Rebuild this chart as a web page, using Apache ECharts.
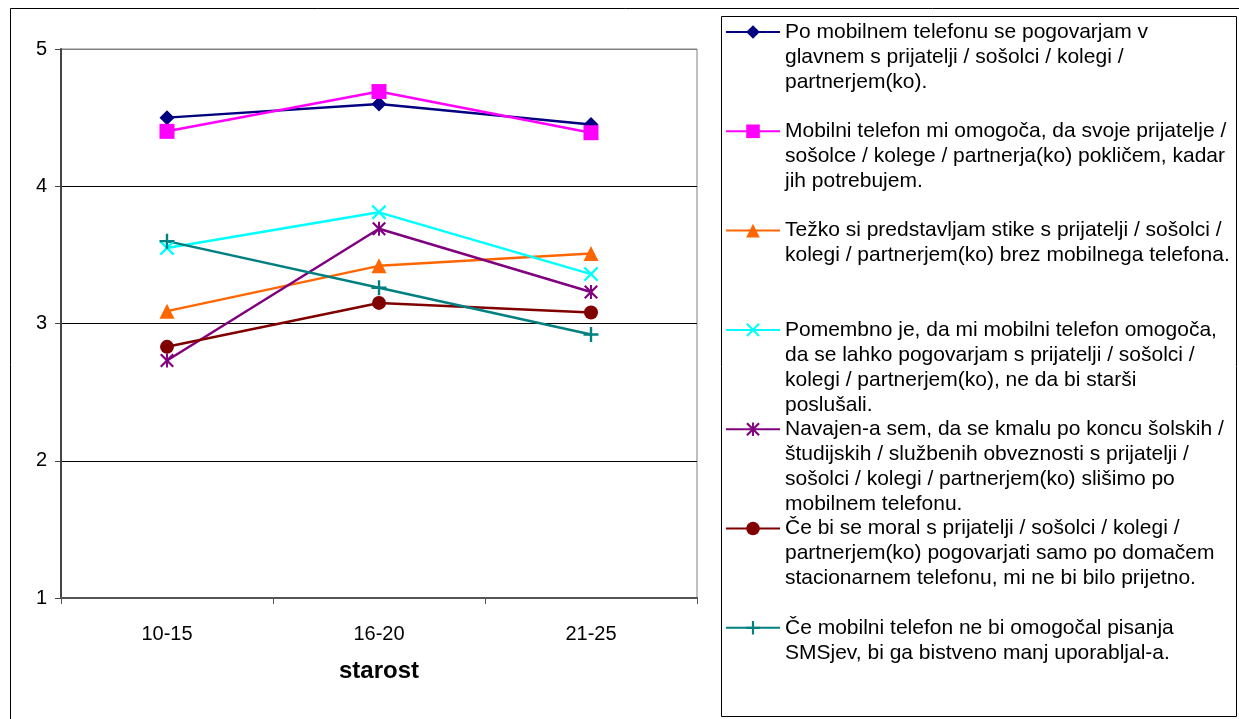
<!DOCTYPE html>
<html>
<head>
<meta charset="utf-8">
<script src="https://cdn.jsdelivr.net/npm/echarts@6/dist/echarts.min.js"></script>
<style>
  html, body { margin: 0; padding: 0; background: #fff; }
  #chart { width: 1239px; height: 719px; }
</style>
</head>
<body>
<div id="chart"></div>
<script>
// ---- DATA ----
const categories = ['10-15', '16-20', '21-25'];
const yTicks = [1, 2, 3, 4, 5];
const xAxisTitle = 'starost';

const s1Name = 'Po mobilnem telefonu se pogovarjam v glavnem s prijatelji / sošolci / kolegi / partnerjem(ko).';
const s2Name = 'Mobilni telefon mi omogoča, da svoje prijatelje / sošolce / kolege / partnerja(ko) pokličem, kadar jih potrebujem.';
const s3Name = 'Težko si predstavljam stike s prijatelji / sošolci / kolegi / partnerjem(ko) brez mobilnega telefona.';
const s4Name = 'Pomembno je, da mi mobilni telefon omogoča, da se lahko pogovarjam s prijatelji / sošolci / kolegi / partnerjem(ko), ne da bi starši poslušali.';
const s5Name = 'Navajen-a sem, da se kmalu po koncu šolskih / študijskih / službenih obveznosti s prijatelji / sošolci / kolegi / partnerjem(ko) slišimo po mobilnem telefonu.';
const s6Name = 'Če bi se moral s prijatelji / sošolci / kolegi / partnerjem(ko) pogovarjati samo po domačem stacionarnem telefonu, mi ne bi bilo prijetno.';
const s7Name = 'Če mobilni telefon ne bi omogočal pisanja SMSjev, bi ga bistveno manj uporabljal-a.';

const s1Values = [4.50, 4.60, 4.45];
const s2Values = [4.40, 4.69, 4.39];
const s3Values = [3.09, 3.42, 3.51];
const s4Values = [3.55, 3.81, 3.36];
const s5Values = [2.73, 3.69, 3.23];
const s6Values = [2.83, 3.15, 3.08];
const s7Values = [3.60, 3.26, 2.92];

// legend text as wrapped in the reference
const s1Lines = ['Po mobilnem telefonu se pogovarjam v', 'glavnem s prijatelji / sošolci / kolegi /', 'partnerjem(ko).'];
const s2Lines = ['Mobilni telefon mi omogoča, da svoje prijatelje /', 'sošolce / kolege / partnerja(ko) pokličem, kadar', 'jih potrebujem.'];
const s3Lines = ['Težko si predstavljam stike s prijatelji / sošolci /', 'kolegi / partnerjem(ko) brez mobilnega telefona.'];
const s4Lines = ['Pomembno je, da mi mobilni telefon omogoča,', 'da se lahko pogovarjam s prijatelji / sošolci /', 'kolegi / partnerjem(ko), ne da bi starši', 'poslušali.'];
const s5Lines = ['Navajen-a sem, da se kmalu po koncu šolskih /', 'študijskih / službenih obveznosti s prijatelji /', 'sošolci / kolegi / partnerjem(ko) slišimo po', 'mobilnem telefonu.'];
const s6Lines = ['Če bi se moral s prijatelji / sošolci / kolegi /', 'partnerjem(ko) pogovarjati samo po domačem', 'stacionarnem telefonu, mi ne bi bilo prijetno.'];
const s7Lines = ['Če mobilni telefon ne bi omogočal pisanja', 'SMSjev, bi ga bistveno manj uporabljal-a.'];

// ---- STYLE / LAYOUT ----
const FONT = '"Liberation Sans", Arial, sans-serif';
const X_PATH = 'path://M0,1.1 L1.1,0 L10,8.9 L8.9,10 Z M8.9,0 L10,1.1 L1.1,10 L0,8.9 Z';
const STAR_PATH = 'path://M0,1.1 L1.1,0 L10,8.9 L8.9,10 Z M8.9,0 L10,1.1 L1.1,10 L0,8.9 Z M4.3,0 L5.7,0 L5.7,10 L4.3,10 Z';
const PLUS_PATH = 'path://M4.2,0 L5.8,0 L5.8,4.2 L10,4.2 L10,5.8 L5.8,5.8 L5.8,10 L4.2,10 L4.2,5.8 L0,5.8 L0,4.2 L4.2,4.2 Z';

const seriesDefs = [
  { name: s1Name, data: s1Values, lines: s1Lines, color: '#000080', symbol: 'diamond', size: 15 },
  { name: s2Name, data: s2Values, lines: s2Lines, color: '#FF00FF', symbol: 'rect', size: 15 },
  { name: s3Name, data: s3Values, lines: s3Lines, color: '#FF6600', symbol: 'triangle', size: 15 },
  { name: s4Name, data: s4Values, lines: s4Lines, color: '#00FFFF', symbol: X_PATH, size: 15 },
  { name: s5Name, data: s5Values, lines: s5Lines, color: '#800080', symbol: STAR_PATH, size: 14 },
  { name: s6Name, data: s6Values, lines: s6Lines, color: '#800000', symbol: 'circle', size: 14 },
  { name: s7Name, data: s7Values, lines: s7Lines, color: '#008080', symbol: PLUS_PATH, size: 15 }
];

const LH = 25;
const legendFirstY = 32;
const legendStep = 99.3;

const chart = echarts.init(document.getElementById('chart'), null, { renderer: 'canvas' });

const legends = seriesDefs.map((d, i) => {
  const n = d.lines.length;
  const iconY = legendFirstY + legendStep * i;
  return {
    show: true,
    data: [d.name],
    orient: 'vertical',
    left: 725,
    top: iconY - (2 * n - 1) * LH / 2,
    padding: 0,
    itemWidth: 54,
    itemHeight: 17,
    itemGap: 0,
    selectedMode: false,
    textStyle: { fontSize: 21, lineHeight: LH, color: '#000', fontFamily: FONT },
    formatter: () => '\n'.repeat(n - 1) + d.lines.join('\n')
  };
});

const option = {
  backgroundColor: '#ffffff',
  animation: false,
  textStyle: { fontFamily: FONT },
  graphic: [
    { type: 'rect', shape: { x: 10.5, y: 8.5, width: 1240, height: 720 }, style: { fill: 'none', stroke: '#000', lineWidth: 1 }, z: 0, silent: true },
    { type: 'rect', shape: { x: 721.5, y: 16.5, width: 515, height: 700 }, style: { fill: '#fff', stroke: '#000', lineWidth: 1 }, z: 0, silent: true }
  ],
  legend: legends,
  grid: {
    left: 61, top: 49, width: 636, height: 549,
    show: true, borderColor: '#808080', borderWidth: 1, backgroundColor: 'transparent'
  },
  xAxis: {
    type: 'category',
    data: categories,
    boundaryGap: true,
    name: xAxisTitle,
    nameLocation: 'middle',
    nameGap: 61,
    nameTextStyle: { fontSize: 24, fontWeight: 'bold', color: '#000', fontFamily: FONT },
    axisLine: { show: true, lineStyle: { color: '#555', width: 2 } },
    axisTick: { show: true, alignWithLabel: false, length: 6, lineStyle: { color: '#555', width: 1 } },
    axisLabel: { fontSize: 20, color: '#000', margin: 26, fontFamily: FONT },
    splitLine: { show: false }
  },
  yAxis: {
    type: 'value',
    min: yTicks[0],
    max: yTicks[yTicks.length - 1],
    interval: 1,
    axisLine: { show: true, lineStyle: { color: '#444', width: 2 } },
    axisTick: { show: true, length: 6, lineStyle: { color: '#444', width: 1 } },
    axisLabel: { fontSize: 20, color: '#000', margin: 14, fontFamily: FONT },
    splitLine: { show: true, lineStyle: { color: ['#000', '#000', '#000', '#000', '#808080'], width: 1 } }
  },
  series: seriesDefs.map(d => ({
    name: d.name,
    type: 'line',
    data: d.data,
    symbol: d.symbol,
    symbolSize: d.size,
    showAllSymbol: true,
    lineStyle: { color: d.color, width: 2.5 },
    itemStyle: { color: d.color, borderWidth: 0 },
    emphasis: { disabled: true }
  }))
};

chart.setOption(option);
</script>
</body>
</html>
